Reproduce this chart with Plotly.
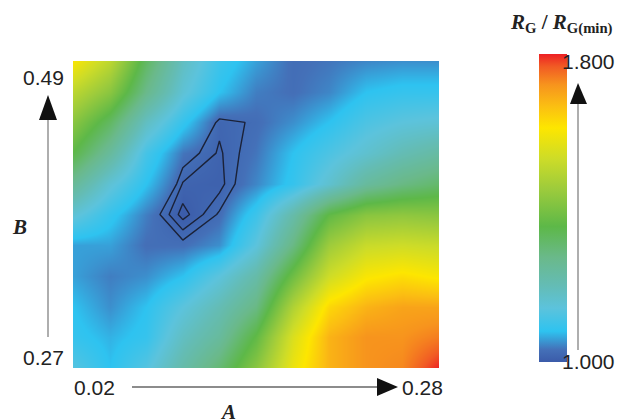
import plotly.graph_objects as go

# Data
A_vals = [0.02, 0.046, 0.072, 0.098, 0.124, 0.15, 0.176, 0.202, 0.228, 0.254, 0.28]
B_vals = [0.27, 0.292, 0.314, 0.336, 0.358, 0.38, 0.402, 0.424, 0.446, 0.468, 0.49]

rg_r0 = [1.13, 1.08, 1.13, 1.22, 1.30, 1.42, 1.58, 1.68, 1.72, 1.73, 1.80]
rg_r1 = [1.09, 1.07, 1.09, 1.18, 1.24, 1.36, 1.55, 1.68, 1.72, 1.72, 1.74]
rg_r2 = [1.08, 1.05, 1.08, 1.14, 1.20, 1.28, 1.48, 1.63, 1.68, 1.70, 1.70]
rg_r3 = [1.06, 1.04, 1.05, 1.08, 1.14, 1.22, 1.38, 1.53, 1.60, 1.62, 1.60]
rg_r4 = [1.06, 1.06, 1.03, 1.03, 1.05, 1.14, 1.28, 1.45, 1.52, 1.53, 1.52]
rg_r5 = [1.15, 1.09, 1.04, 1.000, 1.027, 1.10, 1.22, 1.36, 1.42, 1.43, 1.42]
rg_r6 = [1.25, 1.15, 1.08, 1.014, 1.010, 1.045, 1.09, 1.16, 1.24, 1.28, 1.31]
rg_r7 = [1.35, 1.24, 1.11, 1.035, 1.013, 1.035, 1.08, 1.12, 1.16, 1.20, 1.23]
rg_r8 = [1.42, 1.32, 1.18, 1.09, 1.018, 1.028, 1.05, 1.08, 1.12, 1.14, 1.15]
rg_r9 = [1.50, 1.42, 1.27, 1.15, 1.08, 1.04, 1.03, 1.045, 1.08, 1.09, 1.09]
rg_r10 = [1.60, 1.50, 1.32, 1.18, 1.10, 1.06, 1.028, 1.035, 1.045, 1.05, 1.05]

z = [rg_r0, rg_r1, rg_r2, rg_r3, rg_r4, rg_r5, rg_r6, rg_r7, rg_r8, rg_r9, rg_r10]

cb_min, cb_max = 1.0, 1.8
cb_labels = ["1.000", "1.800"]
x_labels = ["0.02", "0.28"]
y_labels = ["0.27", "0.49"]

colorscale = [
    [0.0, "#3b5ba9"],
    [0.04, "#4470b8"],
    [0.10, "#2ec3f0"],
    [0.175, "#5cc3dc"],
    [0.25, "#64bcb4"],
    [0.34, "#6ab98a"],
    [0.44, "#5db848"],
    [0.56, "#9ccb3c"],
    [0.66, "#cddc28"],
    [0.76, "#fde600"],
    [0.83, "#fbbf12"],
    [0.90, "#f7941d"],
    [0.96, "#f15a24"],
    [1.0, "#ed2024"],
]

W, H = 617, 419


def px(x):
    return x / W


def py(y):
    return 1 - y / H


fig = go.Figure()
fig.add_trace(go.Heatmap(
    x=A_vals, y=B_vals, z=z, zsmooth="best",
    colorscale=colorscale, zmin=cb_min, zmax=cb_max,
    colorbar=dict(
        thickness=28, len=328 / H, lenmode="fraction",
        x=px(529), xanchor="left", y=py(208), yanchor="middle",
        outlinewidth=0, showticklabels=False, ticks="",
    ),
))
fig.add_trace(go.Contour(
    x=A_vals, y=B_vals, z=z,
    contours=dict(start=1.005, end=1.025, size=0.01, coloring="lines"),
    colorscale=[[0, "#1b2238"], [1, "#1b2238"]],
    line=dict(width=1.4, smoothing=0),
    showscale=False, hoverinfo="skip",
))

fig.update_xaxes(domain=[px(73), px(439)], range=[A_vals[0], A_vals[-1]], visible=False)
fig.update_yaxes(domain=[py(368), py(61)], range=[B_vals[0], B_vals[-1]], visible=False)

sans = dict(family="Liberation Sans, Arial, sans-serif", size=21, color="#222222")
serif = dict(family="Liberation Serif, Times New Roman, serif", size=21, color="#222222")

ann = []
# y labels
ann.append(dict(x=px(66), y=py(77), text=y_labels[1], xanchor="right", yanchor="middle", font=sans))
ann.append(dict(x=px(66), y=py(357), text=y_labels[0], xanchor="right", yanchor="middle", font=sans))
# x labels
ann.append(dict(x=px(72), y=py(387), text=x_labels[0], xanchor="left", yanchor="middle", font=sans))
ann.append(dict(x=px(400), y=py(387), text=x_labels[1], xanchor="left", yanchor="middle", font=sans))
# axis titles
ann.append(dict(x=px(19), y=py(227), text="<b><i>B</i></b>", xanchor="center", yanchor="middle", font=serif))
ann.append(dict(x=px(228), y=py(412), text="<b><i>A</i></b>", xanchor="center", yanchor="middle", font=serif))
# colorbar labels
ann.append(dict(x=px(560), y=py(61), text=cb_labels[1], xanchor="left", yanchor="middle", font=sans))
ann.append(dict(x=px(560), y=py(361), text=cb_labels[0], xanchor="left", yanchor="middle", font=sans))
# colorbar title
ann.append(dict(x=px(561), y=py(23), text="<b><i>R</i><sub>G</sub> / <i>R</i><sub>G(min)</sub></b>",
                xanchor="center", yanchor="middle",
                font=dict(family="Liberation Serif, Times New Roman, serif", size=21, color="#222222")))
for a in ann:
    a.update(xref="paper", yref="paper", showarrow=False)

shapes = []
# y arrow
shapes.append(dict(type="line", xref="paper", yref="paper", x0=px(48), x1=px(48), y0=py(337), y1=py(118),
                   line=dict(color="#9a9a9a", width=1.6)))
shapes.append(dict(type="path", xref="paper", yref="paper",
                   path=f"M {px(48)} {py(95)} L {px(39)} {py(120)} L {px(57)} {py(120)} Z",
                   fillcolor="#111111", line=dict(width=0)))
# x arrow
shapes.append(dict(type="line", xref="paper", yref="paper", x0=px(132), x1=px(380), y0=py(387), y1=py(387),
                   line=dict(color="#666666", width=1.6)))
shapes.append(dict(type="path", xref="paper", yref="paper",
                   path=f"M {px(398)} {py(387)} L {px(377)} {py(378)} L {px(377)} {py(396)} Z",
                   fillcolor="#111111", line=dict(width=0)))
# colorbar arrow
shapes.append(dict(type="line", xref="paper", yref="paper", x0=px(578), x1=px(578), y0=py(350), y1=py(100),
                   line=dict(color="#9a9a9a", width=1.6)))
shapes.append(dict(type="path", xref="paper", yref="paper",
                   path=f"M {px(578)} {py(83)} L {px(570)} {py(104)} L {px(587)} {py(104)} Z",
                   fillcolor="#111111", line=dict(width=0)))

fig.update_layout(
    width=W, height=H, margin=dict(l=0, r=0, t=0, b=0),
    paper_bgcolor="white", plot_bgcolor="white",
    annotations=ann, shapes=shapes, showlegend=False,
)

fig.write_html("out.html", config={"displayModeBar": False},
               post_script="document.body.style.margin='0';document.body.style.overflow='hidden';")
